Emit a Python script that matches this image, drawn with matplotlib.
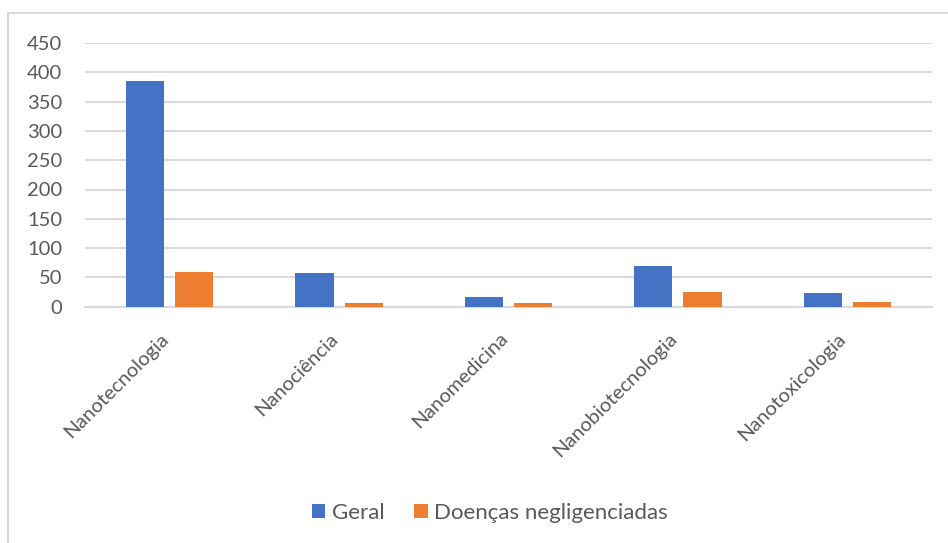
import matplotlib
matplotlib.use("Agg")
import matplotlib.pyplot as plt
from matplotlib.patches import Rectangle
from matplotlib.transforms import ScaledTranslation
import numpy as np

categories = ["Nanotecnologia", "Nanociência", "Nanomedicina", "Nanobiotecnologia", "Nanotoxicologia"]
geral = [385, 58, 16, 69, 23]
doencas = [60, 7, 6, 25, 8]
series_names = ["Geral", "Doenças negligenciadas"]
yticks = [0, 50, 100, 150, 200, 250, 300, 350, 400, 450]

plt.rcParams["font.family"] = ["Lato", "DejaVu Sans"]
text_color = "#595959"
grid_color = "#d9d9d9"

fig = plt.figure(figsize=(9.48, 5.43), dpi=100)
ax = fig.add_axes([85 / 948, 1 - 306.7 / 543, (932 - 85) / 948, (306.7 - 43) / 543])

x = np.arange(len(categories))
w = 0.225
off = 0.145
ax.bar(x - off, geral, width=w, color="#4472C4", label=series_names[0], zorder=3)
ax.bar(x + off, doencas, width=w, color="#ED7D31", label=series_names[1], zorder=3)

ax.set_xlim(-0.5, len(categories) - 0.5)
ax.set_ylim(0, 450)
ax.set_yticks(yticks)
ax.set_yticklabels([str(t) for t in yticks], fontsize=14.5, color=text_color)
ax.yaxis.grid(True, color=grid_color, linewidth=1.5, zorder=0)
ax.set_axisbelow(True)
for s in ["top", "right", "left"]:
    ax.spines[s].set_visible(False)
ax.spines["bottom"].set_color(grid_color)
ax.spines["bottom"].set_linewidth(1.5)
ax.tick_params(axis="y", length=0, pad=16.5)
ax.tick_params(axis="x", length=0, pad=21)
ax.set_xticks(x)
ax.set_xticklabels(categories, rotation=45, ha="right", va="center",
                   rotation_mode="anchor", fontsize=14.5, color=text_color)
shift = ScaledTranslation(-4 / 100, 0, fig.dpi_scale_trans)
for lbl in ax.get_xticklabels():
    lbl.set_transform(lbl.get_transform() + shift)

leg = fig.legend(loc="center", bbox_to_anchor=(490 / 948, 1 - 513 / 543), ncol=2,
                 frameon=False, fontsize=16, handlelength=0.6, handleheight=0.6,
                 handletextpad=0.3, columnspacing=1.35)
for t in leg.get_texts():
    t.set_color(text_color)

fig.patches.append(Rectangle((8 / 948, -0.01), (948 - 8) / 948 + 0.01, 1 - 13 / 543 + 0.01,
                             transform=fig.transFigure, fill=False,
                             edgecolor=grid_color, linewidth=1.5))

fig.savefig("out.png", dpi=100)
